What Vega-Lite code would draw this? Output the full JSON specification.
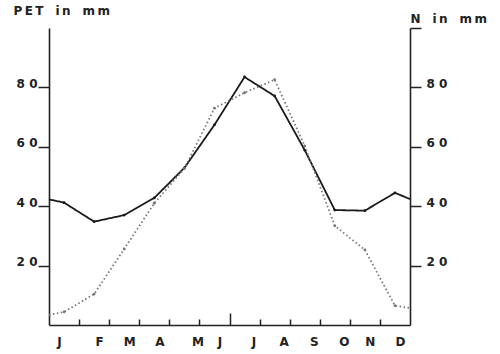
{
  "$schema": "https://vega.github.io/schema/vega-lite/v6.json",
  "autosize": {"type": "none"},
  "padding": {"left": 49, "top": 28, "right": 90, "bottom": 29},
  "width": 361,
  "height": 297,
  "background": "white",
  "config": {"view": {"stroke": null}},
  "data": {"values": [
    {"m": 0, "v": 42.3, "s": "PET"},
    {"m": 0.5, "v": 41.2, "s": "PET"},
    {"m": 1.5, "v": 34.8, "s": "PET"},
    {"m": 2.5, "v": 37.0, "s": "PET"},
    {"m": 3.5, "v": 42.8, "s": "PET"},
    {"m": 4.5, "v": 52.9, "s": "PET"},
    {"m": 5.5, "v": 67.4, "s": "PET"},
    {"m": 6.5, "v": 83.5, "s": "PET"},
    {"m": 7.5, "v": 77.1, "s": "PET"},
    {"m": 8.5, "v": 58.9, "s": "PET"},
    {"m": 9.5, "v": 38.7, "s": "PET"},
    {"m": 10.5, "v": 38.5, "s": "PET"},
    {"m": 11.5, "v": 44.5, "s": "PET"},
    {"m": 12, "v": 42.4, "s": "PET"},
    {"m": 0, "v": 3.4, "s": "N"},
    {"m": 0.5, "v": 4.4, "s": "N"},
    {"m": 1.5, "v": 10.4, "s": "N"},
    {"m": 2.5, "v": 25.6, "s": "N"},
    {"m": 3.5, "v": 41.0, "s": "N"},
    {"m": 4.5, "v": 52.7, "s": "N"},
    {"m": 5.5, "v": 73.0, "s": "N"},
    {"m": 6.5, "v": 78.2, "s": "N"},
    {"m": 7.5, "v": 82.6, "s": "N"},
    {"m": 8.5, "v": 60.3, "s": "N"},
    {"m": 9.5, "v": 33.4, "s": "N"},
    {"m": 10.5, "v": 25.3, "s": "N"},
    {"m": 11.5, "v": 6.5, "s": "N"},
    {"m": 12, "v": 5.7, "s": "N"}
  ]},
  "encoding": {
    "x": {
      "field": "m", "type": "quantitative",
      "scale": {"domain": [0, 12], "nice": false, "zero": false},
      "axis": {
        "title": null,
        "values": [0.5, 1, 1.5, 2, 2.5, 3, 3.5, 4, 4.5, 5, 5.5, 6, 6.5, 7, 7.5, 8, 8.5, 9, 9.5, 10, 10.5, 11, 11.5],
        "grid": false,
        "domainColor": "#222",
        "domainWidth": 1.6,
        "tickColor": "#222",
        "tickWidth": 1.5,
        "tickSize": {"condition": [{"test": "datum.value % 1 !== 0", "value": 0}, {"test": "datum.value === 6", "value": -12}], "value": -6},
        "labelExpr": "datum.value % 1 !== 0 ? substring('JFMAMJJASOND', floor(datum.value), floor(datum.value) + 1) : ''",
        "labelOverlap": false,
        "labelFlush": false,
        "labelBound": false,
        "labelOffset": {"condition": [{"test": "datum.value === 0.5", "value": -5}, {"test": "datum.value === 4.5", "value": 13}, {"test": "datum.value >= 6.5 && datum.value <= 9.5", "value": 9}], "value": 5},
        "labelPadding": 11,
        "labelFont": "DejaVu Sans",
        "labelFontWeight": "bold",
        "labelFontSize": 12,
        "labelColor": "#222"
      }
    },
    "color": {
      "field": "s", "type": "nominal",
      "scale": {"domain": ["PET", "N"], "range": ["#1a1a1a", "#777777"]},
      "legend": null
    }
  },
  "layer": [
    {
      "mark": {"type": "line", "strokeWidth": 1.8},
      "encoding": {
        "y": {
          "field": "v", "type": "quantitative",
          "scale": {"domain": [0, 100], "nice": false},
          "axis": {
            "orient": "left",
            "values": [20, 40, 60, 80],
            "grid": false,
            "domainColor": "#222",
            "domainWidth": 1.6,
            "tickColor": "#222",
            "tickWidth": 1.5,
            "tickSize": 11,
            "labelPadding": 1,
            "labelBaseline": "alphabetic",
            "labelExpr": "substring(datum.label, 0, 1) + ' ' + substring(datum.label, 1)",
            "labelFont": "DejaVu Sans",
            "labelFontWeight": "bold",
            "labelFontSize": 12,
            "labelColor": "#222",
            "title": "P\u2009E\u2009T\u2003i\u2009n\u2003m\u2009m",
            "titleAngle": 0,
            "titleAlign": "left",
            "titleBaseline": "middle",
            "titleX": -36,
            "titleY": -18,
            "titleFont": "DejaVu Sans",
            "titleFontWeight": "bold",
            "titleFontSize": 12,
            "titleColor": "#222"
          }
        },
        "strokeDash": {
          "field": "s", "type": "nominal",
          "scale": {"domain": ["PET", "N"], "range": [[1, 0], [1.5, 2.5]]},
          "legend": null
        }
      }
    },
    {
      "transform": [{"filter": "datum.m % 1 !== 0"}],
      "mark": {"type": "point", "filled": true, "size": 8, "opacity": 1},
      "encoding": {
        "y": {
          "field": "v", "type": "quantitative",
          "axis": {
            "orient": "right",
            "values": [20, 40, 60, 80, 100],
            "grid": false,
            "domainColor": "#222",
            "domainWidth": 1.6,
            "tickColor": "#222",
            "tickWidth": 1.5,
            "tickSize": 11,
            "labelPadding": 5,
            "labelBaseline": "alphabetic",
            "labelExpr": "datum.value >= 100 ? '' : substring(datum.label, 0, 1) + ' ' + substring(datum.label, 1)",
            "labelFont": "DejaVu Sans",
            "labelFontWeight": "bold",
            "labelFontSize": 12,
            "labelColor": "#222",
            "title": "N\u2003i\u2009n\u2003m\u2009m",
            "titleAngle": 0,
            "titleAlign": "left",
            "titleBaseline": "middle",
            "titleX": 0,
            "titleY": -10,
            "titleFont": "DejaVu Sans",
            "titleFontWeight": "bold",
            "titleFontSize": 12,
            "titleColor": "#222"
          }
        }
      }
    }
  ],
  "resolve": {"axis": {"y": "independent"}}
}
